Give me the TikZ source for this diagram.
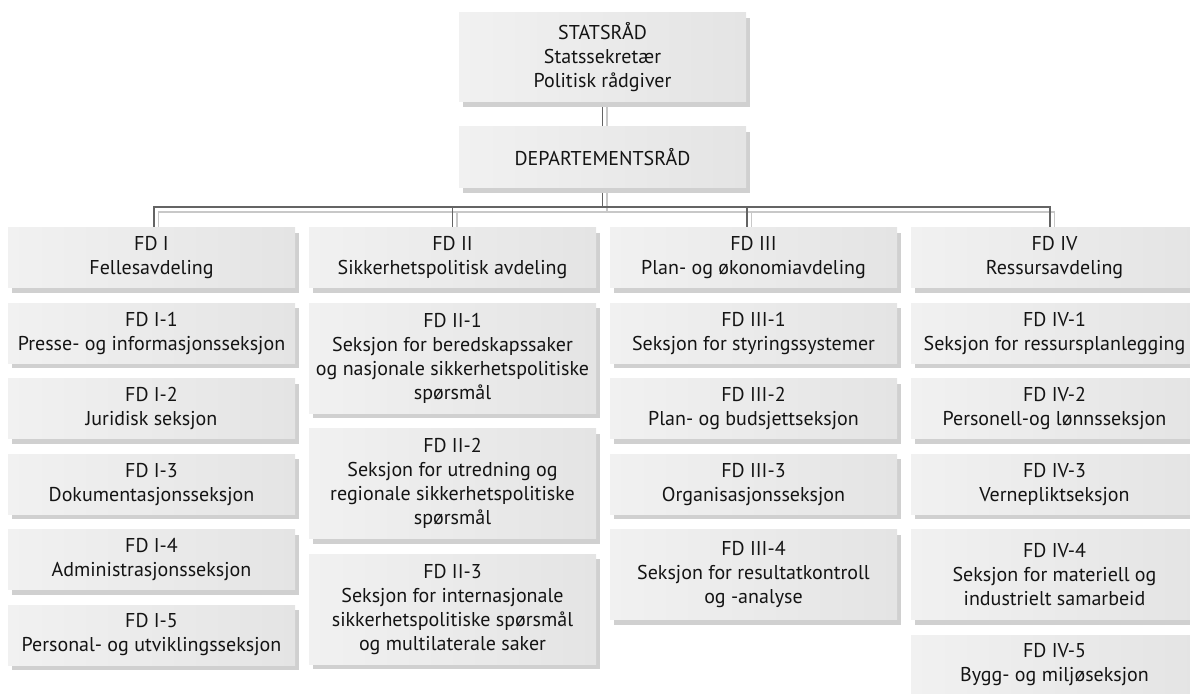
\documentclass[tikz,border=0pt]{standalone}
\usepackage{fontspec}
\setmainfont{PT Sans}
\usetikzlibrary{positioning,shadows,backgrounds}
\definecolor{boxlight}{RGB}{241,241,241}
\definecolor{boxdark}{RGB}{228,228,228}
\definecolor{shadegray}{RGB}{208,208,208}
\definecolor{linegray}{RGB}{100,100,100}
\definecolor{lineshade}{RGB}{200,200,200}
\definecolor{textgray}{RGB}{20,20,20}
\tikzset{
  % grunnboks
  orgbox/.style={
    left color=boxlight,
    right color=boxdark,
    minimum width=287pt,
    minimum height=60pt,
    inner sep=0pt,
    align=center,
    text=textgray,
    font=\fontsize{20}{24}\selectfont,
    general shadow={fill=shadegray, shadow xshift=4pt, shadow yshift=-5pt}
  },
  % linjer og skyggen deres
  link/.style={draw=linegray, line width=1.2pt},
  linkshade/.style={draw=lineshade, line width=1.2pt, transform canvas={shift={(4.5pt,-5pt)}}},
}

\begin{document}
\begin{tikzpicture}[
        x=1pt, y=1pt,
        box/.style={orgbox},
        threeline/.style={orgbox, minimum height=90pt},
        fourline/.style={orgbox, minimum height=110pt}
    ]
        \useasboundingbox (0,0) rectangle (1190,693);

        % Ledelse
        \node[box, minimum height=89pt] (statsrad) at (602.5,635.5) {STATSRÅD\\Statssekretær\\Politisk rådgiver};
        \node[box, minimum height=61pt] (deptrad) at (602.5,535.5) {DEPARTEMENTSRÅD};

        % Avdelinger
        \node[box] (fdi) at (151.5,435) {FD I\\Fellesavdeling};
        \node[box] (fdii) at (452.5,435) {FD II\\Sikkerhetspolitisk avdeling};
        \node[box] (fdiii) at (753.5,435) {FD III\\Plan- og økonomiavdeling};
        \node[box] (fdiv) at (1054.5,435) {FD IV\\Ressursavdeling};

        % FD I
        \node[box, below=15pt of fdi] (fdi1) {FD I-1\\Presse- og informasjonsseksjon};
        \node[box, below=15pt of fdi1] (fdi2) {FD I-2\\Juridisk seksjon};
        \node[box, below=15pt of fdi2] (fdi3) {FD I-3\\Dokumentasjonsseksjon};
        \node[box, below=15pt of fdi3] (fdi4) {FD I-4\\Administrasjonsseksjon};
        \node[box, below=15pt of fdi4] (fdi5) {FD I-5\\Personal- og utviklingsseksjon};

        % FD II
        \node[fourline, below=15pt of fdii] (fdii1) {FD II-1\\Seksjon for beredskapssaker\\og nasjonale sikkerhetspolitiske\\spørsmål};
        \node[fourline, below=15pt of fdii1] (fdii2) {FD II-2\\Seksjon for utredning og\\regionale sikkerhetspolitiske\\spørsmål};
        \node[fourline, below=15pt of fdii2] (fdii3) {FD II-3\\Seksjon for internasjonale\\sikkerhetspolitiske spørsmål\\og multilaterale saker};

        % FD III
        \node[box, below=15pt of fdiii] (fdiii1) {FD III-1\\Seksjon for styringssystemer};
        \node[box, below=15pt of fdiii1] (fdiii2) {FD III-2\\Plan- og budsjettseksjon};
        \node[box, below=15pt of fdiii2] (fdiii3) {FD III-3\\Organisasjonsseksjon};
        \node[threeline, below=15pt of fdiii3] (fdiii4) {FD III-4\\Seksjon for resultatkontroll\\og -analyse};

        % FD IV
        \node[box, below=15pt of fdiv] (fdiv1) {FD IV-1\\Seksjon for ressursplanlegging};
        \node[box, below=15pt of fdiv1] (fdiv2) {FD IV-2\\Personell-og lønnsseksjon};
        \node[box, below=15pt of fdiv2] (fdiv3) {FD IV-3\\Vernepliktseksjon};
        \node[threeline, below=15pt of fdiv3] (fdiv4) {FD IV-4\\Seksjon for materiell og\\industrielt samarbeid};
        \node[box, below=15pt of fdiv4] (fdiv5) {FD IV-5\\Bygg- og miljøseksjon};

        % Linjer
        \coordinate (bus) at (602.5,486);
        \begin{scope}[on background layer]
            \foreach \s in {linkshade,link} {
                \draw[\s] (statsrad) -- (deptrad);
                \foreach \n/\dx in {fdi/2.5,fdii/0,fdiii/-6.5,fdiv/-4.5}
                    \draw[\s] (deptrad.south) -- (bus) -| ([xshift=\dx pt]\n.north);
            }
        \end{scope}
    \end{tikzpicture}
\end{document}
